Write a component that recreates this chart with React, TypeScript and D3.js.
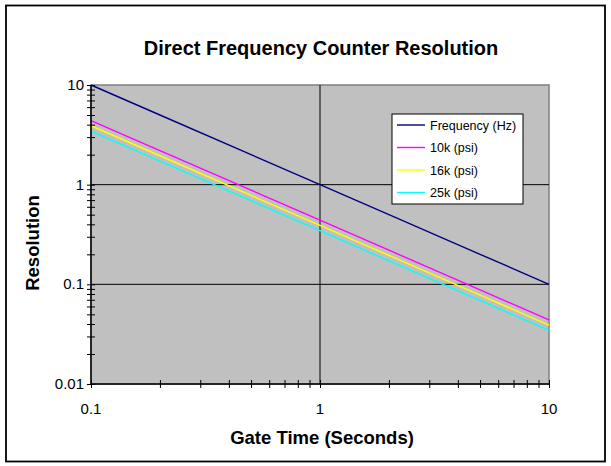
import { useRef, useEffect } from 'react';
import * as d3 from 'd3';

// gate times (seconds) and resolution for each series
const gateTimes = [0.1, 0.2, 0.5, 1, 2, 5, 10];
const frequencyHz = [10, 5, 2, 1, 0.5, 0.2, 0.1];
const psi10k = [4.4, 2.2, 0.88, 0.44, 0.22, 0.088, 0.044];
const psi16k = [3.9, 1.95, 0.78, 0.39, 0.195, 0.078, 0.039];
const psi25k = [3.45, 1.72, 0.69, 0.345, 0.172, 0.069, 0.0345];

const seriesNames = ['Frequency (Hz)', '10k (psi)', '16k (psi)', '25k (psi)'];
const seriesColors = ['#000080', '#FF00FF', '#FFFF00', '#00FFFF'];
const xTickLabels = ['0.1', '1', '10'];
const yTickLabels = ['0.01', '0.1', '1', '10'];

const FONT = '"Liberation Sans", Arial, sans-serif';

const Chart = () => {
  const ref = useRef(null);

  useEffect(() => {
    const svg = d3.select(ref.current);
    svg.selectAll('*').remove();

    const plot = { left: 91, right: 549, top: 85, bottom: 384 };

    const x = d3.scaleLog().domain([0.1, 10]).range([plot.left, plot.right]);
    const y = d3.scaleLog().domain([0.01, 10]).range([plot.bottom, plot.top]);

    // outer frame
    svg.append('rect')
      .attr('x', 6).attr('y', 5.5)
      .attr('width', 599).attr('height', 456)
      .attr('fill', 'white')
      .attr('stroke', 'black')
      .attr('stroke-width', 1.8);

    // title
    svg.append('text')
      .attr('x', 321).attr('y', 55)
      .attr('text-anchor', 'middle')
      .attr('font-family', FONT)
      .attr('font-weight', 'bold')
      .attr('font-size', 20)
      .text('Direct Frequency Counter Resolution');

    // plot background
    svg.append('rect')
      .attr('x', plot.left).attr('y', plot.top)
      .attr('width', plot.right - plot.left)
      .attr('height', plot.bottom - plot.top)
      .attr('fill', '#C0C0C0')
      .attr('stroke', '#808080')
      .attr('stroke-width', 1.5);

    // major gridlines
    const grid = svg.append('g').attr('stroke', 'black').attr('stroke-width', 1);
    grid.selectAll('.gx')
      .data([1])
      .enter().append('line')
      .attr('x1', d => x(d)).attr('x2', d => x(d))
      .attr('y1', plot.top).attr('y2', plot.bottom);
    grid.selectAll('.gy')
      .data([0.1, 1])
      .enter().append('line')
      .attr('x1', plot.left).attr('x2', plot.right)
      .attr('y1', d => y(d)).attr('y2', d => y(d));

    // series lines
    const allSeries = [frequencyHz, psi10k, psi16k, psi25k];
    const line = d3.line()
      .x((d, i) => x(gateTimes[i]))
      .y(d => y(d));

    svg.selectAll('.series')
      .data(allSeries)
      .enter().append('path')
      .attr('class', 'series')
      .attr('d', d => line(d))
      .attr('fill', 'none')
      .attr('stroke', (d, i) => seriesColors[i])
      .attr('stroke-width', 1.4);

    // axes (ticks cross the axis line)
    const gX = svg.append('g')
      .attr('transform', `translate(0, ${plot.bottom - 4})`)
      .call(d3.axisBottom(x).tickValues(x.ticks()).tickSizeOuter(0)
        .tickSizeInner(8).tickFormat(() => ''));
    gX.select('.domain').remove();
    gX.selectAll('line').attr('stroke', 'black');

    const gY = svg.append('g')
      .attr('transform', `translate(${plot.left + 4}, 0)`)
      .call(d3.axisLeft(y).tickValues(y.ticks()).tickSizeOuter(0)
        .tickSizeInner(8).tickFormat(() => ''));
    gY.select('.domain').remove();
    gY.selectAll('line').attr('stroke', 'black');

    // axis lines
    svg.append('line')
      .attr('x1', plot.left).attr('x2', plot.left)
      .attr('y1', plot.top).attr('y2', plot.bottom)
      .attr('stroke', 'black').attr('stroke-width', 1.5);
    svg.append('line')
      .attr('x1', plot.left).attr('x2', plot.right)
      .attr('y1', plot.bottom).attr('y2', plot.bottom)
      .attr('stroke', 'black').attr('stroke-width', 1.5);

    // tick labels
    svg.selectAll('.xlab')
      .data(xTickLabels)
      .enter().append('text')
      .attr('x', d => x(+d))
      .attr('y', 414)
      .attr('text-anchor', 'middle')
      .attr('font-family', FONT)
      .attr('font-size', 15)
      .text(d => d);

    svg.selectAll('.ylab')
      .data(yTickLabels)
      .enter().append('text')
      .attr('x', plot.left - 7)
      .attr('y', d => y(+d) + 5)
      .attr('text-anchor', 'end')
      .attr('font-family', FONT)
      .attr('font-size', 15)
      .text(d => d);

    // axis titles
    svg.append('text')
      .attr('x', 322).attr('y', 444)
      .attr('text-anchor', 'middle')
      .attr('font-family', FONT)
      .attr('font-weight', 'bold')
      .attr('font-size', 18.5)
      .text('Gate Time (Seconds)');

    svg.append('text')
      .attr('transform', `translate(39, 243) rotate(-90)`)
      .attr('text-anchor', 'middle')
      .attr('font-family', FONT)
      .attr('font-weight', 'bold')
      .attr('font-size', 18.5)
      .text('Resolution');

    // legend
    const legend = svg.append('g');
    legend.append('rect')
      .attr('x', 392).attr('y', 114)
      .attr('width', 131).attr('height', 90)
      .attr('fill', 'white')
      .attr('stroke', 'black')
      .attr('stroke-width', 1);
    const rows = legend.selectAll('.row')
      .data(seriesNames)
      .enter().append('g')
      .attr('transform', (d, i) => `translate(0, ${125 + i * 22.5})`);
    rows.append('line')
      .attr('x1', 397).attr('x2', 425)
      .attr('y1', 0).attr('y2', 0)
      .attr('stroke', (d, i) => seriesColors[i])
      .attr('stroke-width', 1.4);
    rows.append('text')
      .attr('x', 430).attr('y', 4.5)
      .attr('font-family', FONT)
      .attr('font-size', 12.5)
      .text(d => d);
  }, []);

  return (
    <svg ref={ref} width={611} height={466}
      style={{ position: 'absolute', left: 0, top: 0 }}></svg>
  );
};

export default function App() {
  return <Chart />;
}
